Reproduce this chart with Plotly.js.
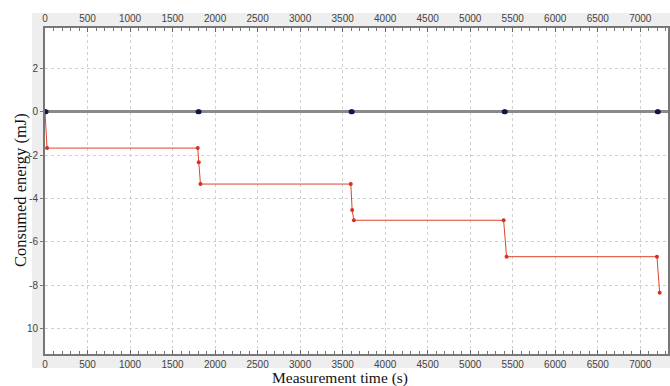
<!DOCTYPE html>
<html>
<head>
<meta charset="utf-8">
<script src="https://cdn.plot.ly/plotly-3.0.1.min.js"></script>
<style>html,body{margin:0;padding:0;background:#fff;}#chart{width:670px;height:386px;}</style>
</head>
<body>
<div id="chart"></div>
<script>
// Data
const energyTime = [0, 24, 1796, 1808, 1828, 3596, 3612, 3632, 5393, 5428, 7196, 7228];
const energyValue = [0, -1.68, -1.68, -2.33, -3.34, -3.34, -4.54, -5.01, -5.01, -6.69, -6.69, -8.35];
const eventTime = [0, 12, 1800, 1812, 3600, 3612, 5400, 5412, 7200, 7212];
const eventValue = [0, 0, 0, 0, 0, 0, 0, 0, 0, 0];
const yTickVals = [2, 0, -2, -4, -6, -8, -10];
const yTickText = ['2', '0', '-2', '-4', '-6', '-8', '10'];
const xTickVals = [0, 500, 1000, 1500, 2000, 2500, 3000, 3500, 4000, 4500, 5000, 5500, 6000, 6500, 7000];
const xTitle = 'Measurement time (s)';
const yTitle = 'Consumed energy (mJ)';

const W = 670, H = 386;
const m = {l: 45, r: 2, t: 28, b: 32};
const pw = W - m.l - m.r, ph = H - m.t - m.b;
const xRange = [0, 7326];
const yRange = [-11.18, 3.86];

const traces = [
  {
    x: energyTime, y: energyValue, type: 'scatter', mode: 'lines+markers',
    line: {color: '#e0442e', width: 1},
    marker: {color: '#d8301c', size: 4},
    hoverinfo: 'skip', showlegend: false
  },
  {
    x: eventTime, y: eventValue, type: 'scatter', mode: 'markers',
    marker: {color: '#0c1650', size: 5, symbol: 'circle'},
    hoverinfo: 'skip', showlegend: false
  },
  {
    x: [xRange[0]], y: [yRange[0]], xaxis: 'x2', type: 'scatter', mode: 'markers',
    marker: {opacity: 0}, hoverinfo: 'skip', showlegend: false
  }
];

const tickFont = {family: 'Liberation Sans, Arial, sans-serif', size: 10, color: '#444'};
const xTitleFont = {family: 'Liberation Serif, Times New Roman, serif', size: 15.5, color: '#111'};
const yTitleFont = {family: 'Liberation Serif, Times New Roman, serif', size: 16.5, color: '#111'};

const layout = {
  width: W, height: H,
  margin: m,
  paper_bgcolor: '#ffffff',
  plot_bgcolor: '#ffffff',
  showlegend: false,
  shapes: [
    {type: 'rect', xref: 'paper', yref: 'paper', layer: 'below',
     x0: (32 - m.l) / pw, x1: (670 - m.l) / pw,
     y0: (H - m.b - 368) / ph, y1: (H - m.b - 13) / ph,
     fillcolor: '#eeeeee', line: {width: 0}},
    {type: 'rect', xref: 'paper', yref: 'paper', layer: 'below',
     x0: 0, x1: 1, y0: 0, y1: 1, fillcolor: '#ffffff', line: {width: 0}}
  ],
  annotations: [
    {text: xTitle, xref: 'paper', yref: 'paper', showarrow: false,
     x: (340 - m.l) / pw, y: (H - m.b - 378) / ph, xanchor: 'center', yanchor: 'middle',
     font: xTitleFont},
    {text: yTitle, xref: 'paper', yref: 'paper', showarrow: false, textangle: -90,
     x: (20 - m.l) / pw, y: (H - m.b - 190) / ph, xanchor: 'center', yanchor: 'middle',
     font: yTitleFont}
  ],
  xaxis: {
    range: xRange, tickvals: xTickVals, ticks: 'inside', ticklen: 4, tickcolor: '#666',
    minor: {dtick: 100, ticks: 'inside', ticklen: 3, tickcolor: '#777', showgrid: false},
    showgrid: true, gridcolor: '#d0d0d0', griddash: 'dot', gridwidth: 1,
    zeroline: false, showline: true, linecolor: '#777', linewidth: 2,
    tickfont: tickFont, automargin: false
  },
  xaxis2: {
    range: xRange, overlaying: 'x', side: 'top', tickvals: xTickVals,
    ticks: 'inside', ticklen: 4, tickcolor: '#666',
    minor: {dtick: 100, ticks: 'inside', ticklen: 3, tickcolor: '#777', showgrid: false},
    showgrid: false, zeroline: false, showline: true, linecolor: '#777', linewidth: 2,
    tickfont: tickFont, automargin: false
  },
  yaxis: {
    range: yRange, tickvals: yTickVals, ticktext: yTickText,
    ticks: 'outside', ticklen: 3, tickcolor: '#777', mirror: 'ticks',
    showgrid: true, gridcolor: '#d0d0d0', griddash: 'dot', gridwidth: 1,
    zeroline: true, zerolinecolor: '#8a8a8a', zerolinewidth: 2.5,
    showline: true, linecolor: '#777', linewidth: 2,
    tickfont: tickFont, automargin: false
  }
};

Plotly.newPlot('chart', traces, layout, {displayModeBar: false, staticPlot: true});
</script>
</body>
</html>
